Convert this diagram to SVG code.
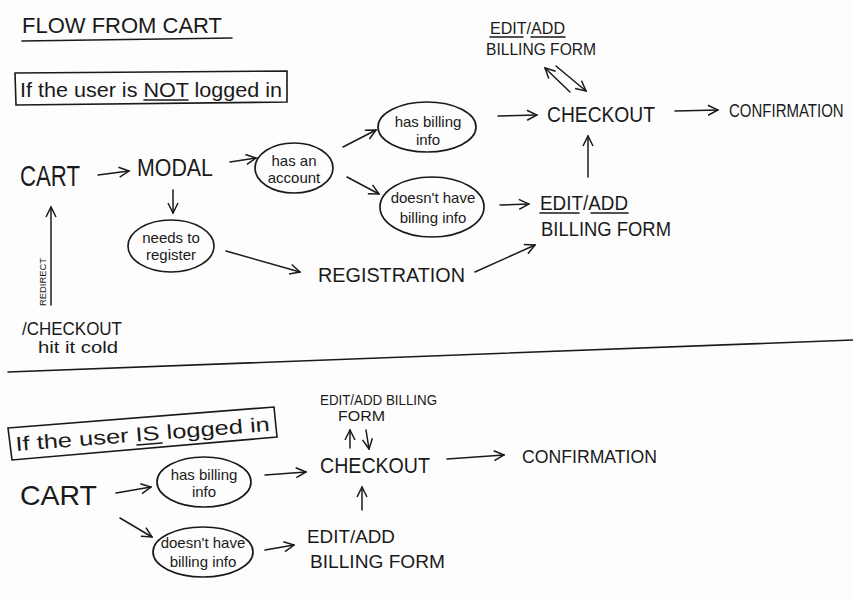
<svg xmlns="http://www.w3.org/2000/svg" width="853" height="600" viewBox="0 0 853 600">
<defs>
<marker id="ah" viewBox="0 0 12 12" refX="11" refY="6" markerWidth="12" markerHeight="12" markerUnits="userSpaceOnUse" orient="auto">
<path d="M1,1 L11,6 L1,11" fill="none" stroke="#1a1a1a" stroke-width="1.5"/>
</marker>
<style>
text{font-family:"Liberation Sans",Arial,sans-serif;fill:#1a1a1a;}
.c{text-anchor:middle;}
.ln{fill:none;stroke:#1a1a1a;stroke-width:1.6;stroke-linecap:round;}
.ar{fill:none;stroke:#1a1a1a;stroke-width:1.5;stroke-linecap:round;marker-end:url(#ah);}
.el{fill:none;stroke:#1a1a1a;stroke-width:1.7;}
</style>
</defs>
<rect width="853" height="600" fill="#fdfdfd"/>

<g id="title">
<text x="22" y="33" font-size="22" textLength="200" lengthAdjust="spacingAndGlyphs">FLOW FROM CART</text>
<path class="ln" d="M22,41 L232,38"/>
</g>

<g id="section1-label">
<path class="ln" d="M15,73 L287,71 L287,102 L16,105 Z"/>
<text x="20" y="97" font-size="20" textLength="262" lengthAdjust="spacingAndGlyphs">If the user is NOT logged in</text>
<path class="ln" d="M144,100 L188,100"/>
</g>

<g id="cart1"><text x="20" y="186" font-size="30" textLength="60" lengthAdjust="spacingAndGlyphs">CART</text></g>
<g id="modal"><text x="137" y="176" font-size="23" textLength="76" lengthAdjust="spacingAndGlyphs">MODAL</text></g>
<g id="has-account">
<ellipse class="el" cx="294" cy="168" rx="39" ry="25"/>
<text class="c" x="294" y="166" font-size="15">has an</text>
<text class="c" x="294" y="183" font-size="15">account</text>
</g>
<g id="needs-register">
<ellipse class="el" cx="171" cy="246" rx="43" ry="26"/>
<text class="c" x="171" y="243" font-size="15">needs to</text>
<text class="c" x="171" y="260" font-size="15">register</text>
</g>
<g id="has-billing1">
<ellipse class="el" cx="427" cy="127" rx="49" ry="25"/>
<text class="c" x="428" y="127" font-size="15">has billing</text>
<text class="c" x="428" y="145" font-size="15">info</text>
</g>
<g id="no-billing1">
<ellipse class="el" cx="432" cy="207" rx="52" ry="30"/>
<text class="c" x="433" y="203" font-size="15">doesn't have</text>
<text class="c" x="433" y="223" font-size="15">billing info</text>
</g>
<g id="registration"><text x="318" y="282" font-size="21" textLength="147" lengthAdjust="spacingAndGlyphs">REGISTRATION</text></g>
<g id="edit-billing1">
<text x="540" y="210" font-size="20" textLength="88" lengthAdjust="spacingAndGlyphs">EDIT/ADD</text>
<path class="ln" d="M540,213 L579,213 M591,213 L628,213"/>
<text x="541" y="236" font-size="20" textLength="130" lengthAdjust="spacingAndGlyphs">BILLING FORM</text>
</g>
<g id="checkout1"><text x="547" y="122" font-size="22" textLength="108" lengthAdjust="spacingAndGlyphs">CHECKOUT</text></g>
<g id="confirmation1"><text transform="translate(729,117) scale(1,1.25)" font-size="15">CONFIRMATION</text></g>
<g id="edit-billing-top1">
<text x="490" y="34" font-size="17" textLength="75" lengthAdjust="spacingAndGlyphs">EDIT/ADD</text>
<path class="ln" d="M490,37 L523,37 M531,37 L565,37"/>
<text x="486" y="55" font-size="17" textLength="110" lengthAdjust="spacingAndGlyphs">BILLING FORM</text>
</g>
<g id="checkout-cold">
<text x="22" y="335" font-size="19" textLength="100" lengthAdjust="spacingAndGlyphs">/CHECKOUT</text>
<text x="38" y="353" font-size="16" textLength="80" lengthAdjust="spacingAndGlyphs">hit it cold</text>
</g>
<g id="redirect-label">
<text transform="translate(46,306) rotate(-90)" font-size="9" textLength="48" lengthAdjust="spacingAndGlyphs">REDIRECT</text>
</g>

<g id="divider"><path class="ln" d="M8,372 Q430,357 853,340"/></g>

<g id="section2-label">
<path class="ln" d="M8,428 L274,407 L277,437 L12,460 Z"/>
<text transform="translate(16,451) rotate(-4.5)" font-size="20" textLength="255" lengthAdjust="spacingAndGlyphs">If the user IS logged in</text>
<path class="ln" d="M137,445 L162,443"/>
</g>
<g id="cart2"><text x="20" y="505" font-size="28" textLength="77" lengthAdjust="spacingAndGlyphs">CART</text></g>
<g id="has-billing2">
<ellipse class="el" cx="204" cy="482" rx="47" ry="25"/>
<text class="c" x="204" y="480" font-size="15">has billing</text>
<text class="c" x="204" y="497" font-size="15">info</text>
</g>
<g id="no-billing2">
<ellipse class="el" cx="203" cy="552" rx="50" ry="25"/>
<text class="c" x="203" y="548" font-size="15">doesn't have</text>
<text class="c" x="203" y="567" font-size="15">billing info</text>
</g>
<g id="checkout2"><text x="320" y="473" font-size="22" textLength="110" lengthAdjust="spacingAndGlyphs">CHECKOUT</text></g>
<g id="confirmation2"><text x="522" y="463" font-size="19" textLength="135" lengthAdjust="spacingAndGlyphs">CONFIRMATION</text></g>
<g id="edit-billing2">
<text x="307" y="543" font-size="19" textLength="88" lengthAdjust="spacingAndGlyphs">EDIT/ADD</text>
<text x="310" y="568" font-size="19" textLength="135" lengthAdjust="spacingAndGlyphs">BILLING FORM</text>
</g>
<g id="edit-billing-top2">
<text x="320" y="405" font-size="14" textLength="117" lengthAdjust="spacingAndGlyphs">EDIT/ADD BILLING</text>
<text x="338" y="421" font-size="14" textLength="47" lengthAdjust="spacingAndGlyphs">FORM</text>
</g>

<g id="connectors">
<path class="ar" d="M98,175 L129,171"/>
<path class="ar" d="M230,162 L256,158"/>
<path class="ar" d="M173,190 L173,213"/>
<path class="ar" d="M226,251 L300,272"/>
<path class="ar" d="M343,147 L376,130"/>
<path class="ar" d="M347,177 L379,194"/>
<path class="ar" d="M500,205 L529,204"/>
<path class="ar" d="M475,272 L535,245"/>
<path class="ar" d="M588,177 L588,136"/>
<path class="ar" d="M498,116 L537,115"/>
<path class="ar" d="M675,111 L718,110"/>
<path class="ar" d="M570,92 L545,68"/>
<path class="ar" d="M556,66 L586,91"/>
<path class="ar" d="M51,305 L51,207"/>
<path class="ar" d="M116,493 L151,487"/>
<path class="ar" d="M120,518 L152,537"/>
<path class="ar" d="M265,475 L306,472"/>
<path class="ar" d="M265,550 L294,545"/>
<path class="ar" d="M362,510 L362,487"/>
<path class="ar" d="M350,448 L350,430"/>
<path class="ar" d="M366,430 L369,449"/>
<path class="ar" d="M447,459 L504,455"/>
</g>
</svg>
